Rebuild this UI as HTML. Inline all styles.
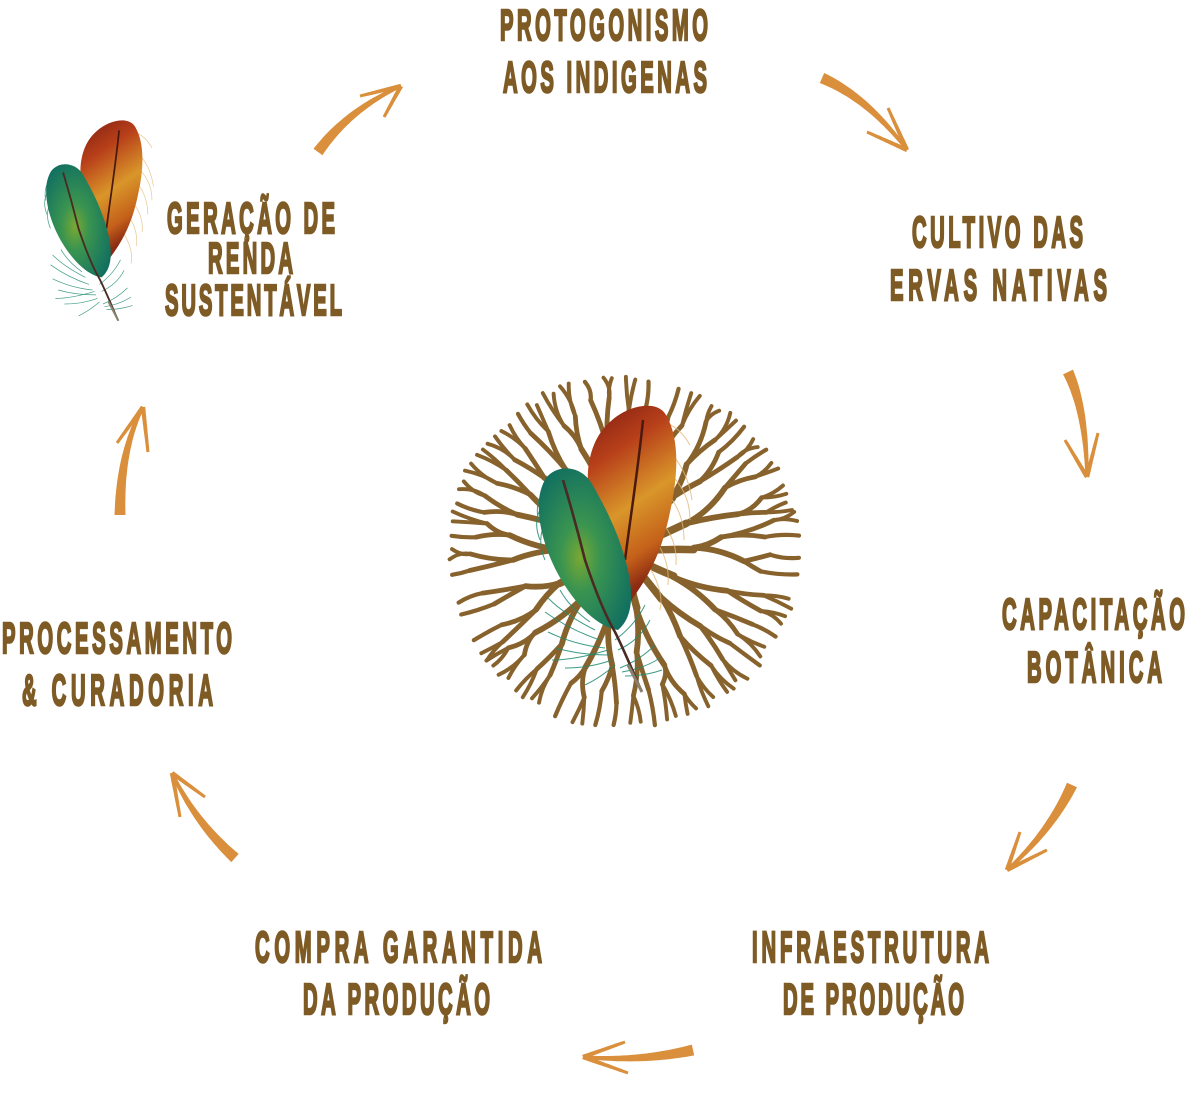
<!DOCTYPE html>
<html><head><meta charset="utf-8"><style>
html,body{margin:0;padding:0;background:#fff;}
svg{display:block;}
.t{font-family:"Liberation Sans",sans-serif;font-weight:bold;font-size:44px;fill:#7e5a25;stroke:#7e5a25;stroke-width:2;}
</style></head><body>
<svg id="s" width="1190" height="1102" viewBox="0 0 1190 1102" xmlns="http://www.w3.org/2000/svg">
<defs>
<linearGradient id="og" x1="0" y1="0" x2="0.3" y2="1">
<stop offset="0" stop-color="#7e1c10"/><stop offset="0.3" stop-color="#b8401a"/><stop offset="0.6" stop-color="#d9962a"/><stop offset="0.85" stop-color="#c4601a"/><stop offset="1" stop-color="#8a2a12"/>
</linearGradient>
<radialGradient id="gg" cx="0.45" cy="0.55" r="0.6">
<stop offset="0" stop-color="#7aa832"/><stop offset="0.35" stop-color="#3a9450"/><stop offset="1" stop-color="#127060"/>
</radialGradient>
<g id="feathers">
<g fill="none" stroke="#e2b876" stroke-width="1" opacity="0.8">
<path d="M668,450 Q688,470 692,500"/><path d="M666,470 Q690,490 690,520"/><path d="M664,490 Q684,510 684,540"/><path d="M660,520 Q678,540 676,565"/><path d="M655,540 Q670,560 668,585"/><path d="M650,420 Q676,420 690,445"/><path d="M645,560 Q665,590 660,610"/>
</g>
<path d="M611,421 C630,404 658,400 666,415 C679,437 679,472 670,512 C662,552 648,578 630,602 C613,582 598,542 590,502 C583,465 593,436 611,421 Z" fill="url(#og)"/>
<path d="M643,420 C638,470 630,520 625,560" fill="none" stroke="#4a1a10" stroke-width="2.5"/>
<g fill="none" stroke="#1f8a70" stroke-width="1" opacity="0.85">
<path d="M545,490 Q535,500 538,520"/><path d="M543,505 Q532,520 540,540"/><path d="M546,520 Q536,540 545,560"/>
<path d="M600,640 Q570,630 545,612"/><path d="M605,648 Q575,645 548,632"/><path d="M610,655 Q580,655 556,648"/><path d="M612,660 Q590,668 565,668"/><path d="M615,665 Q600,678 585,685"/><path d="M595,630 Q565,615 548,598"/><path d="M590,622 Q570,608 560,590"/><path d="M608,650 Q575,660 552,660"/>
<path d="M620,668 Q640,660 655,645"/><path d="M622,672 Q645,668 660,658"/><path d="M618,650 Q640,640 650,620"/><path d="M615,640 Q635,625 645,605"/><path d="M625,676 Q645,676 662,670"/>
</g>
<path d="M546,478 C558,463 582,466 592,484 C607,510 622,540 629,575 C634,602 630,620 618,630 C598,627 577,606 562,581 C547,556 537,525 539,500 C540,490 543,483 546,478 Z" fill="url(#gg)"/>
<path d="M563,480 C572,510 580,540 585,560 C595,590 605,615 615,632 C625,652 633,672 641,690" fill="none" stroke="#4a2a22" stroke-width="2.6"/>
<path d="M628,665 L642,692" stroke="#8a8070" stroke-width="3" fill="none"/>
</g>
</defs>
<g id="roots" fill="none" stroke="#87622c" stroke-linecap="round"></g>
<use href="#feathers"/>
<use href="#feathers" transform="matrix(0.7,0,0,0.7,-331,-163.6)"/>
<g id="arrows" fill="#d98f3c"></g>

<text class="t" x="500" y="40" textLength="208">PROTOGONISMO</text>
<text class="t" x="503" y="92" textLength="204">AOS INDIGENAS</text>
<text class="t" x="912" y="247" textLength="171">CULTIVO DAS</text>
<text class="t" x="890" y="300" textLength="217">ERVAS NATIVAS</text>
<text class="t" x="1002" y="629" textLength="183">CAPACITAÇÃO</text>
<text class="t" x="1027" y="682" textLength="135">BOTÂNICA</text>
<text class="t" x="752" y="962" textLength="237">INFRAESTRUTURA</text>
<text class="t" x="783" y="1014" textLength="181">DE PRODUÇÃO</text>
<text class="t" x="255" y="962" textLength="287">COMPRA GARANTIDA</text>
<text class="t" x="303" y="1014" textLength="187">DA PRODUÇÃO</text>
<text class="t" x="2" y="653" textLength="230">PROCESSAMENTO</text>
<text class="t" x="22" y="705" textLength="191">&amp; CURADORIA</text>
<text class="t" x="167" y="233" textLength="168">GERAÇÃO DE</text>
<text class="t" x="208" y="273" textLength="85">RENDA</text>
<text class="t" x="165" y="315" textLength="177">SUSTENTÁVEL</text>
</svg>
<script>
(function(){
var NS='http://www.w3.org/2000/svg';
var SX=0.46;
var ts=document.querySelectorAll('text.t');
for(var k=0;k<ts.length;k++){
  var t=ts[k];
  var x=parseFloat(t.getAttribute('x')), L=parseFloat(t.getAttribute('textLength'));
  t.setAttribute('transform','scale('+SX+',1)');
  t.setAttribute('x',(x/SX).toFixed(2));
  t.setAttribute('textLength',(L/SX).toFixed(2));
  t.setAttribute('lengthAdjust','spacing');
  t.setAttribute('vector-effect','non-scaling-stroke');
}
var seed=12345;
function rnd(){seed=(seed*16807)%2147483647;return seed/2147483647;}
var cx=623,cy=552,R=178;
var g=document.getElementById('roots');
function pt(r,a){return [cx+r*Math.cos(a),cy+r*Math.sin(a)];}
function seg(r0,a0,r1,a1,w){
  var p0=pt(r0,a0),p1=pt(r1,a1),c=pt((r0+r1)/2,a0+(a1-a0)*0.25+(rnd()-0.5)*0.05);
  var p=document.createElementNS(NS,'path');
  p.setAttribute('d','M'+p0[0].toFixed(1)+','+p0[1].toFixed(1)+' Q'+c[0].toFixed(1)+','+c[1].toFixed(1)+' '+p1[0].toFixed(1)+','+p1[1].toFixed(1));
  p.setAttribute('stroke-width',w);
  g.appendChild(p);
}
var N=14;
for(var i=0;i<N;i++){
  var a=i*2*Math.PI/N+(rnd()-0.5)*0.15;
  var r1=50+rnd()*25;
  seg(15,a,r1,a+(rnd()-0.5)*0.06,7.5);
  for(var s1=-1;s1<=1;s1+=2){
    var a1=a+s1*(0.09+rnd()*0.05);
    var r2=98+rnd()*25;
    seg(r1,a,r2,a1,5.8);
    for(var s2=-1;s2<=1;s2+=2){
      var a2=a1+s2*(0.045+rnd()*0.02);
      var r3=138+rnd()*18;
      seg(r2,a1,r3,a2,4.8);
      if(rnd()<0.65){
        for(var s3=-1;s3<=1;s3+=2){
          var a3=a2+s3*(0.02+rnd()*0.012);
          seg(r3,a2,R-rnd()*8,a3,3.9);
        }
      } else {
        seg(r3,a2,R-rnd()*6,a2+(rnd()-0.5)*0.03,4.2);
      }
    }
  }
}
var ag=document.getElementById('arrows');
function taper(p0,c,p1,w0,w1){
  var n=30,Lp=[],Rt=[];
  for(var i=0;i<=n;i++){
    var t=i/n;
    var x=(1-t)*(1-t)*p0[0]+2*(1-t)*t*c[0]+t*t*p1[0];
    var y=(1-t)*(1-t)*p0[1]+2*(1-t)*t*c[1]+t*t*p1[1];
    var dx=2*(1-t)*(c[0]-p0[0])+2*t*(p1[0]-c[0]);
    var dy=2*(1-t)*(c[1]-p0[1])+2*t*(p1[1]-c[1]);
    var l=Math.sqrt(dx*dx+dy*dy)||1;
    var nx=-dy/l,ny=dx/l,w=(w0+(w1-w0)*t)/2;
    Lp.push((x+nx*w).toFixed(1)+','+(y+ny*w).toFixed(1));
    Rt.push((x-nx*w).toFixed(1)+','+(y-ny*w).toFixed(1));
  }
  var p=document.createElementNS(NS,'polygon');
  p.setAttribute('points',Lp.concat(Rt.reverse()).join(' '));
  ag.appendChild(p);
}
function arrow(t,c,tip,b1,b2){
  taper(t,c,tip,11,3);
  taper(tip,[(tip[0]+b1[0])/2,(tip[1]+b1[1])/2],b1,4.5,3);
  taper(tip,[(tip[0]+b2[0])/2,(tip[1]+b2[1])/2],b2,4.5,3);
}
arrow([318,152],[348,110],[401,86],[360,96],[384,117]);
arrow([822,78],[868,98],[907,150],[888,108],[867,132]);
arrow([1068,372],[1086,410],[1087,477],[1065,440],[1098,433]);
arrow([1072,785],[1050,832],[1007,870],[1020,832],[1047,850]);
arrow([693,1050],[640,1062],[583,1057],[625,1042],[628,1073]);
arrow([235,858],[195,822],[172,773],[180,817],[205,797]);
arrow([120,515],[120,450],[143,407],[117,443],[148,452]);
})();
</script>
</body></html>
